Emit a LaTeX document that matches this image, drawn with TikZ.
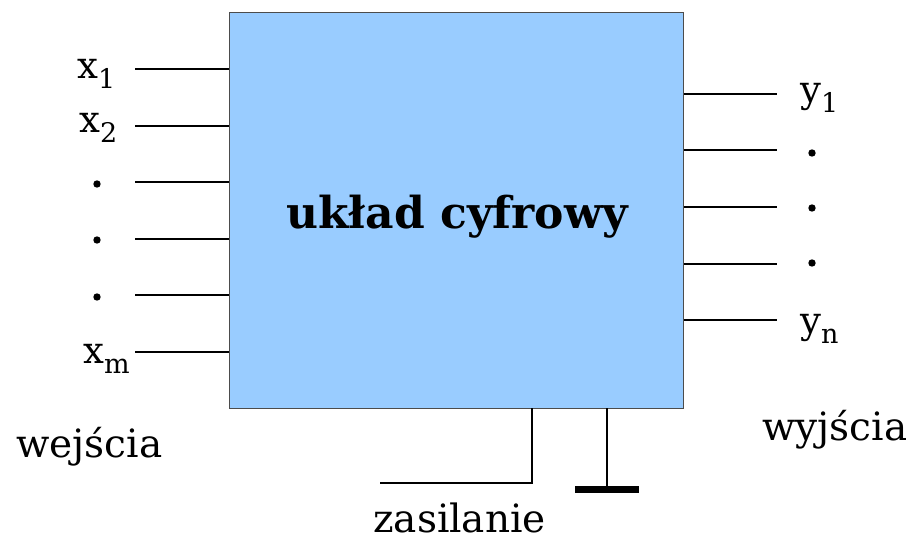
\documentclass[tikz,border=0pt]{standalone}
\usepackage{fontspec}
\setmainfont{DejaVu Serif}
\newcommand{\subs}[1]{\raisebox{-0.28em}{\fontsize{27}{27}\selectfont #1}}
\begin{document}
\begin{tikzpicture}[x=1pt,y=-1pt,
  wire/.style={line width=1.6pt,black},
  lbl/.style={inner sep=0pt,anchor=base west,font=\fontsize{37}{42}\selectfont},
  word/.style={inner sep=0pt,anchor=base west,font=\fontsize{39}{45}\selectfont},
  dotmark/.style={fill=black}]
\useasboundingbox (0,0) rectangle (906,544);
\definecolor{boxblue}{HTML}{99CCFF}
\node[draw=black!70,line width=1pt,fill=boxblue,minimum width=454pt,minimum height=396pt,inner sep=0pt,anchor=north west] (box) at (229,12) {};
\node[inner sep=0pt,anchor=base,font=\fontsize{44}{50}\selectfont\bfseries] (title) at (457,228) {układ cyfrowy};
% inputs
\foreach \i/\y in {1/69,2/126,3/182,4/239,5/295,6/352}{
  \coordinate (in\i) at (135,\y);
  \coordinate (bi\i) at (box.west |- in\i);
  \draw[wire] (in\i) -- (bi\i);
}
\node[lbl] (x1) at (77,78) {x\subs{1}};
\node[lbl] (x2) at (79,132) {x\subs{2}};
\node[lbl] (xm) at (83,363) {x\subs{m}};
\fill[dotmark] (97,184) circle (3.7pt);
\fill[dotmark] (97,240) circle (3.7pt);
\fill[dotmark] (97,297) circle (3.7pt);
% outputs
\foreach \i/\y in {1/94,2/150,3/207,4/264,5/320}{
  \coordinate (out\i) at (777,\y);
  \coordinate (bo\i) at (box.east |- out\i);
  \draw[wire] (bo\i) -- (out\i);
}
\node[lbl] (y1) at (800,102) {y\subs{1}};
\node[lbl] (yn) at (800,333) {y\subs{n}};
\fill[dotmark] (812,153) circle (3.7pt);
\fill[dotmark] (812,208) circle (3.7pt);
\fill[dotmark] (812,263) circle (3.7pt);
% power
\coordinate (pw) at (532,408);
\coordinate (pwend) at (380,483);
\draw[wire] (pw) |- (pwend);
\coordinate (gnd) at (607,408);
\coordinate (gndb) at (607,489);
\draw[wire] (gnd) -- (gndb);
\draw[line width=7pt] (575,489) -- (639,489);
% labels
\node[word] (wej) at (16,457) {wejścia};
\node[word] (wyj) at (762,440) {wyjścia};
\node[word] (zas) at (373,532) {zasilanie};
\end{tikzpicture}
\end{document}
